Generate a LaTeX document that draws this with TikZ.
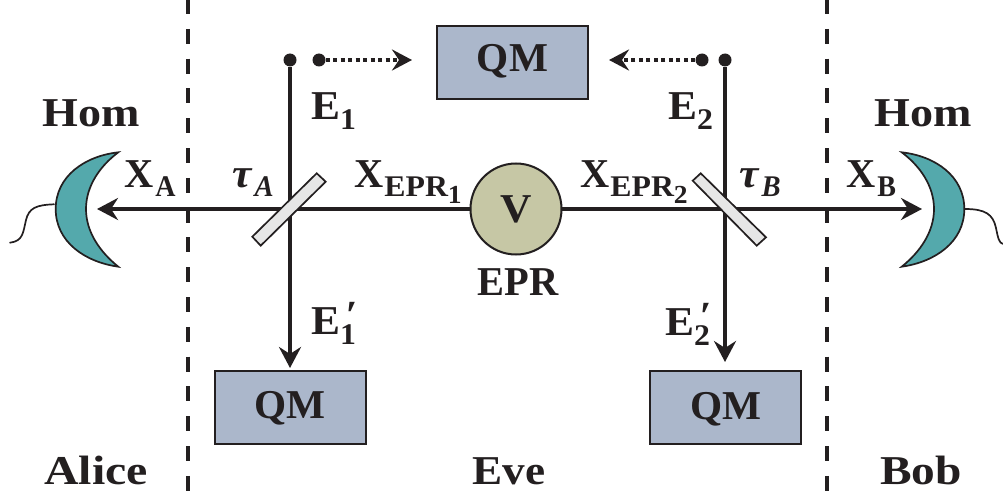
\documentclass[tikz,border=0pt]{standalone}
\usepackage{fontspec}
\usepackage{graphicx}
\setmainfont{Liberation Serif}[FakeStretch=1.06]
\usetikzlibrary{arrows.meta}
\definecolor{ink}{HTML}{231F20}
\definecolor{qmfill}{HTML}{ABB7CB}
\definecolor{vfill}{HTML}{C6C7A5}
\definecolor{homfill}{HTML}{54A9AC}
\definecolor{bsfill}{HTML}{E6E6E6}
\newcommand{\bigtxt}{\fontsize{41}{41}\selectfont\bfseries}
\newcommand{\subtxt}{\fontsize{30}{30}\selectfont\bfseries}
\newcommand{\subsubtxt}{\fontsize{26}{26}\selectfont\bfseries}
\newcommand{\primetxt}{\fontsize{40}{40}\selectfont\bfseries\itshape}
\newcommand{\dn}[1]{\raisebox{-9.5pt}{\subtxt #1}}
\newcommand{\dndn}[1]{\raisebox{-7pt}{\subsubtxt #1}}
\newcommand{\hsc}[2]{\scalebox{#1}[1]{#2}}
\newcommand{\primed}[1]{\rlap{\raisebox{-10pt}{\subtxt #1}}\hspace{5pt}\raisebox{6pt}{\primetxt ′}}
\tikzset{
  lbl/.style={inner sep=0pt,text=ink,font=\bigtxt,anchor=base west},
  lblc/.style={inner sep=0pt,text=ink,font=\bigtxt,anchor=base},
  qmbox/.style={draw=ink,line width=2pt,fill=qmfill,inner sep=0pt,minimum width=151pt,minimum height=73pt},
  beam/.style={draw=ink,line width=4pt},
  tip/.style={-{Stealth[length=21pt,width=22pt,inset=7pt]}},
  border/.style={draw=ink,line width=4pt,dash pattern=on 15pt off 14.8pt,dash phase=0pt},
  bs/.style={draw=ink,line width=1.7pt,fill=bsfill},
  hom/.style={draw=ink,line width=1.7pt,fill=homfill},
  wire/.style={draw=ink,line width=1.7pt},
  dotend/.style={circle,fill=ink,inner sep=0pt,minimum size=13pt}
}
\begin{document}
\begin{tikzpicture}[x=1pt,y=-1pt]
\useasboundingbox (0,0) rectangle (1003,492);
% party borders
\coordinate (bl1) at (187.5,-1); \coordinate (bl2) at (187.5,492);
\coordinate (br1) at (827,-1); \coordinate (br2) at (827,492);
\draw[border] (bl1) -- (bl2);
\draw[border] (br1) -- (br2);
% nodes
\node[qmbox] (qmt) at (512.5,63) {};
\node[qmbox] (qml) at (290,407.5) {};
\node[qmbox] (qmr) at (725,407.5) {};
\node[lblc] at (512.5,72) {\hsc{.95}{QM}};
\node[lblc] at (290,418) {\hsc{.95}{QM}};
\node[lblc] at (726,419) {\hsc{.95}{QM}};
\coordinate (homl) at (97,209);
\coordinate (homr) at (922,209);
\coordinate (splitl) at (290,209);
\coordinate (splitr) at (725,209);
\node[dotend] (e1top) at (290,60) {};
\node[dotend] (e2top) at (725,60) {};
\node[dotend] (d1) at (319,60) {};
\node[dotend] (d2) at (702,60) {};
\coordinate (e1tip) at (290,368);
\coordinate (e2tip) at (725,362);
\coordinate (t1) at (412,60);
\coordinate (t2) at (609,60);
% beams
\draw[beam,tip] (splitl) -- (homl);
\draw[beam,tip] (splitr) -- (homr);
\draw[beam] (splitl) -- (splitr);
\draw[beam,tip] (e1top) -- (e1tip);
\draw[beam,tip] (e2top) -- (e2tip);
\draw[ink,line width=4pt,dash pattern=on 4pt off 3.5pt,-{Stealth[length=20pt,width=21pt,inset=7pt]}] (d1) -- (t1);
\draw[ink,line width=4pt,dash pattern=on 4pt off 3.5pt,-{Stealth[length=20pt,width=21pt,inset=7pt]}] (d2) -- (t2);
% beam splitters
\draw[bs] (316.7,173.3) -- (325.7,181.7) -- (260.7,245.7) -- (252.3,236.7) -- cycle;
\draw[bs] (700.7,173.3) -- (692.7,180.7) -- (756.7,245.7) -- (766,237.3) -- cycle;
% source
\node[circle,draw=ink,line width=2pt,fill=vfill,minimum size=91pt,inner sep=0pt] (epr) at (516,209) {};
\node[lblc] at (516,222.5) {V};
% homodyne detectors
\draw[hom] (118.3,152.3) .. controls (85,156) and (55.7,176) .. (55.7,209) .. controls (55.7,242) and (85,262) .. (118.3,266.7) .. controls (100,252) and (86,232) .. (86,209) .. controls (86,186) and (100,166) .. (118.3,152.3) -- cycle;
\draw[hom] (901.7,152.3) .. controls (935,156) and (964.3,176) .. (964.3,209) .. controls (964.3,242) and (935,262) .. (901.7,266.7) .. controls (920,252) and (934,232) .. (934,209) .. controls (934,186) and (920,166) .. (901.7,152.3) -- cycle;
\draw[wire,line cap=round] (54,204.3) .. controls (36,205) and (29,208) .. (26,220) .. controls (23,233) and (23,241) .. (10,242.7);
\draw[wire] (965,209) .. controls (985,209) and (993,214) .. (996,228) .. controls (998,238) and (999,243) .. (1003,244);
% labels
\node[lblc] at (91,127) {\hsc{1.06}{Hom}};
\node[lblc] at (923,127) {\hsc{1.06}{Hom}};
\node[lbl] at (124,187) {\hsc{.93}{X}\hspace{2pt}\dn{\hsc{.88}{A}}};
\node[lbl] at (846,187) {\hsc{.93}{X}\hspace{2pt}\dn{\hsc{.88}{B}}};
\node[lbl] at (232,187) {\textit{τ}\hspace{2pt}\dn{\hsc{.9}{\textit{A}}}};
\node[lbl] at (739,187) {\textit{τ}\hspace{2pt}\dn{\hsc{.9}{\textit{B}}}};
\node[lbl] at (354,187) {\hsc{.93}{X}\hspace{1pt}\dn{EPR\dndn{1}}};
\node[lbl] at (580,187) {\hsc{.93}{X}\hspace{1pt}\dn{EPR\dndn{2}}};
\node[lbl] at (311,120) {E\dn{1}};
\node[lbl] at (668,120) {E\dn{2}};
\node[lbl] at (311,334) {E\primed{1}};
\node[lbl] at (665,335) {E\primed{2}};
\node[lblc] at (518,295) {\hsc{.93}{EPR}};
\node[lblc] at (96,484) {\hsc{1.1}{Alice}};
\node[lblc] at (509,484) {\hsc{1.04}{Eve}};
\node[lblc] at (921,484) {\hsc{1.09}{Bob}};
\end{tikzpicture}
\end{document}
